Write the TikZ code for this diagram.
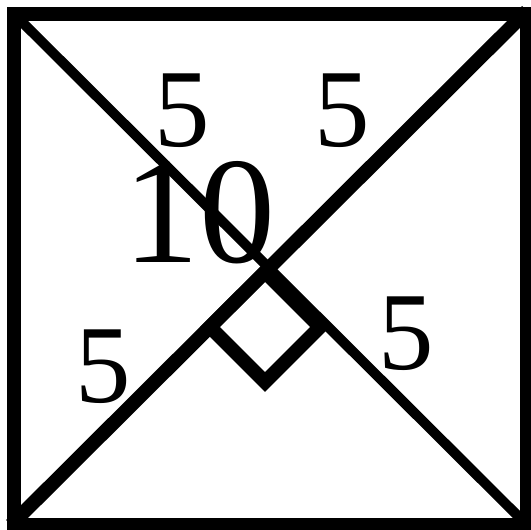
\documentclass[tikz,border=0pt]{standalone}
\usepackage{fontspec}
\setmainfont{Liberation Serif}
\tikzset{
  side/.style={draw,black,line width=14pt,line join=miter},
  diag/.style={black,line width=10pt},
  lab/.style={inner sep=0pt,font=\fontsize{111}{111}\selectfont},
  biglab/.style={inner sep=0pt,font=\fontsize{152}{152}\selectfont}
}
\begin{document}
\begin{tikzpicture}[x=1pt,y=-1pt]
\useasboundingbox (0,0) rectangle (531,530);
\coordinate (tl) at (14,14);
\coordinate (tr) at (527,11);
\coordinate (br) at (527,525);
\coordinate (bl) at (11,525);
% right angle mark
\coordinate (m1) at (265,272);
\coordinate (m2) at (210,327);
\coordinate (m3) at (265,382);
\coordinate (m4) at (320,327);
\draw[diag] (tl)--(br);
\draw[diag,line width=14pt] (bl)--(tr);
\draw[diag,line width=14pt,line join=miter] (m1)--(m2)--(m3)--(m4)--cycle;
\draw[side] (14,14) rectangle (527,525);
\node[lab] (a) at (182,111) {5};
\node[lab] (b) at (342,111) {5};
\node[lab] (c) at (103,367) {5};
\node[lab] (d) at (406,334) {5};
\node[biglab] (e) at (199,213) {10};
\end{tikzpicture}
\end{document}
